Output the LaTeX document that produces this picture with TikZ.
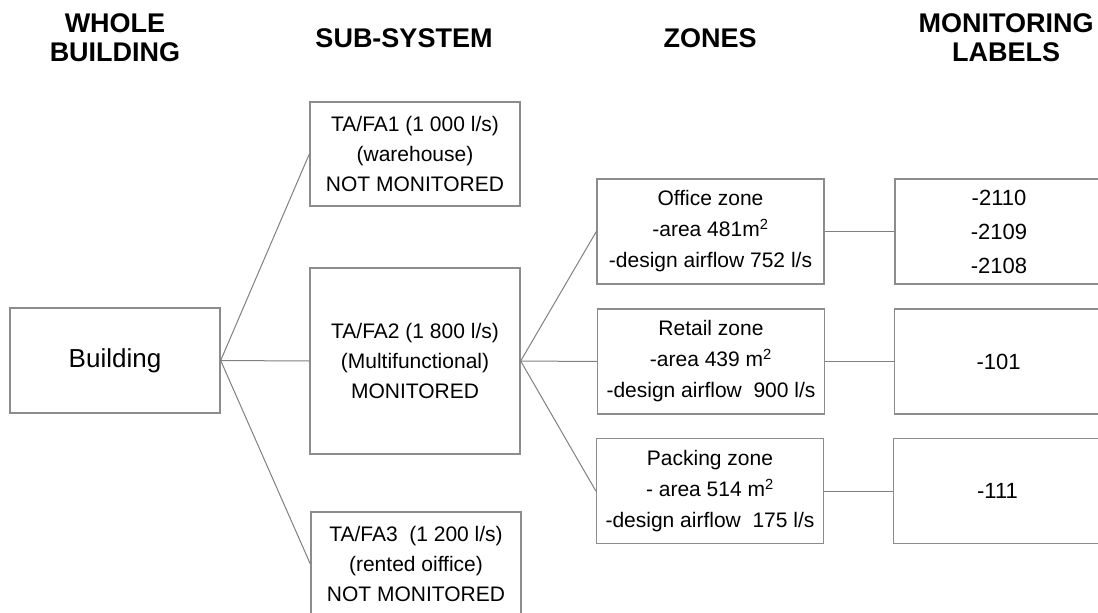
\documentclass[tikz,border=0pt]{standalone}
\usepackage{fontspec}
\setmainfont{Liberation Sans}

\tikzset{every picture/.style={line width=0.75pt}}
\tikzset{
  box/.style={draw=black!45, line width=1pt, align=center, inner sep=0pt,
    font=\fontsize{15.75}{22.5}\selectfont},
  zonebox/.style={box, minimum width=170.25pt, minimum height=78.75pt,
    font=\fontsize{15.75}{23.25}\selectfont},
  labelbox/.style={box, minimum width=156pt, minimum height=78.75pt,
    font=\fontsize{16.5}{25.5}\selectfont},
  head/.style={align=center, font=\fontsize{20.25}{22}\selectfont\bfseries},
  link/.style={draw=black!50}
}

\begin{document}
\begin{tikzpicture}[x=0.75pt,y=0.75pt,yscale=-1,xscale=1]
\useasboundingbox (0,0) rectangle (1098,613);

% column titles
\draw (115,38) node [head] (hwhole) {WHOLE\\BUILDING};
\draw (404,38) node [head] (hsub) {SUB-SYSTEM};
\draw (710,38) node [head] (hzone) {ZONES};
\draw (1006,38) node [head] (hmon) {MONITORING\\LABELS};

% whole building
\draw (115,360.5) node [box, minimum width=157.5pt, minimum height=78.75pt,
  font=\fontsize{19.5}{22.5}\selectfont] (bld) {Building};

% sub-systems
\draw (415,154) node [box, minimum width=157.5pt, minimum height=78pt] (ta1)
  {TA/FA1 (1 000 l/s)\\(warehouse)\\NOT MONITORED};
\draw (415,361) node [box, minimum width=157.5pt, minimum height=139.5pt] (ta2)
  {TA/FA2 (1 800 l/s)\\(Multifunctional)\\MONITORED};
\draw (416,564) node [box, minimum width=157.5pt, minimum height=78pt] (ta3)
  {TA/FA3\ \ (1 200 l/s)\\(rented oiffice)\\NOT MONITORED};

% zones
\draw (710.5,231.5) node [zonebox] (office)
  {Office zone\\-area 481m\textsuperscript{2}\\-design airflow 752 l/s};
\draw (711,361.5) node [zonebox] (retail)
  {Retail zone\\-area 439 m\textsuperscript{2}\\-design airflow\ \ 900 l/s};
\draw (710,491) node [zonebox] (packing)
  {Packing zone\\- area 514 m\textsuperscript{2}\\-design airflow\ \ 175 l/s};

% monitoring labels
\draw (999,231.5) node [labelbox] (lboffice) {-2110\\-2109\\-2108};
\draw (998.5,361.5) node [labelbox] (lbretail) {-101};
\draw (997.5,491) node [labelbox] (lbpacking) {-111};

% links
\draw [link] (bld.east) -- (ta1.west);
\draw [link] (bld.east) -- (ta2.west);
\draw [link] (bld.east) -- (ta3.west);
\draw [link] (ta2.east) -- (office.west);
\draw [link] (ta2.east) -- (retail.west);
\draw [link] (ta2.east) -- (packing.west);
\draw [link] (office.east) -- (lboffice.west);
\draw [link] (retail.east) -- (lbretail.west);
\draw [link] (packing.east) -- (lbpacking.west);

\end{tikzpicture}
\end{document}
